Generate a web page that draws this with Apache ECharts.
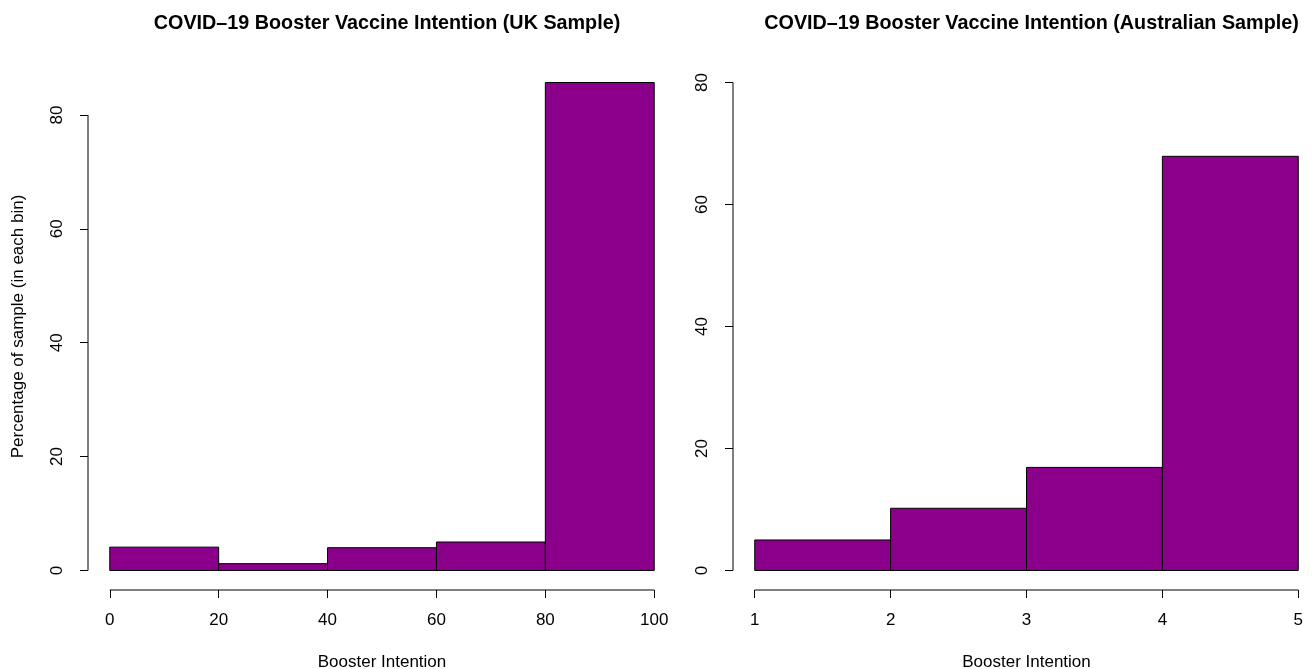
<!DOCTYPE html>
<html>
<head>
<meta charset="utf-8">
<script src="https://cdn.jsdelivr.net/npm/echarts@6/dist/echarts.min.js"></script>
<style>
  html, body { margin: 0; padding: 0; background: #ffffff; }
  #chart { width: 1313px; height: 669px; }
</style>
</head>
<body>
<div id="chart"></div>
<script>
// Histogram bins: break points and percentage of sample in each bin
const ukBreaks = [0, 20, 40, 60, 80, 100];
const ukPercent = [4.1, 1.2, 4.0, 5.0, 85.7];
const auBreaks = [1, 2, 3, 4, 5];
const auPercent = [5.0, 10.2, 16.9, 67.9];

// Tick labels
const ukXTicks = [0, 20, 40, 60, 80, 100];
const auXTicks = [1, 2, 3, 4, 5];
const yTicks = [0, 20, 40, 60, 80];
const auYLimit = [0, 80];

// Text
const titles = [
  'COVID\u201319 Booster Vaccine Intention (UK Sample)',
  'COVID\u201319 Booster Vaccine Intention (Australian Sample)'
];
const xTitle = 'Booster Intention';
const yTitle = 'Percentage of sample (in each bin)';

const FONT = '"Liberation Sans", Arial, Helvetica, sans-serif';
const FILL = '#8B008B';

// Extend a range by 4% at each end, as base graphics does
function padRange(lo, hi) {
  const d = (hi - lo) * 0.04;
  return [lo - d, hi + d];
}

function bins(breaks, values) {
  return values.map((v, i) => [breaks[i], breaks[i + 1], v]);
}

const ukX = padRange(ukBreaks[0], ukBreaks[ukBreaks.length - 1]);
const ukY = padRange(0, Math.max(...ukPercent));
const auX = padRange(auBreaks[0], auBreaks[auBreaks.length - 1]);
const auY = padRange(auYLimit[0], auYLimit[1]);

const grids = [
  { left: 88, top: 63, width: 588, height: 527, outerBoundsMode: 'none', containLabel: false },
  { left: 733, top: 63, width: 587, height: 527, outerBoundsMode: 'none', containLabel: false }
];

function xAxisFor(idx, range, ticks) {
  return {
    type: 'value', gridIndex: idx, min: range[0], max: range[1],
    axisLine: { show: false, onZero: false }, splitLine: { show: false },
    axisTick: { show: true, customValues: ticks, length: 8, lineStyle: { color: '#000', width: 1 } },
    axisLabel: { customValues: ticks, fontSize: 17, color: '#000', margin: 22, fontFamily: FONT },
    name: xTitle, nameLocation: 'middle', nameGap: 64,
    nameTextStyle: { fontSize: 17, color: '#000', fontFamily: FONT }
  };
}

function yAxisFor(idx, range, withName) {
  const ax = {
    type: 'value', gridIndex: idx, min: range[0], max: range[1],
    axisLine: { show: false, onZero: false }, splitLine: { show: false },
    axisTick: { show: true, customValues: yTicks, length: 8, lineStyle: { color: '#000', width: 1 } },
    axisLabel: { customValues: yTicks, fontSize: 17, color: '#000', margin: 22, rotate: 90, fontFamily: FONT }
  };
  if (withName) {
    ax.name = yTitle;
    ax.nameLocation = 'middle';
    ax.nameRotate = 90;
    ax.nameGap = 61;
    ax.nameTextStyle = { fontSize: 17, color: '#000', fontFamily: FONT };
  }
  return ax;
}

function histSeries(idx, data) {
  return {
    type: 'custom', xAxisIndex: idx, yAxisIndex: idx, silent: true,
    data: data,
    encode: { x: [0, 1], y: 2 },
    renderItem: function (params, api) {
      const p0 = api.coord([api.value(0), api.value(2)]);
      const p1 = api.coord([api.value(1), 0]);
      return {
        type: 'rect',
        shape: { x: p0[0], y: p0[1], width: p1[0] - p0[0], height: p1[1] - p0[1] },
        style: { fill: FILL, stroke: '#000', lineWidth: 1 }
      };
    }
  };
}

// Axis lines that run only between the first and last tick
function axisLineSeries(idx, pts) {
  return {
    type: 'line', xAxisIndex: idx, yAxisIndex: idx, silent: true, clip: false,
    symbol: 'none', data: pts,
    lineStyle: { color: '#000', width: 1 }
  };
}

const option = {
  animation: false,
  backgroundColor: '#ffffff',
  title: titles.map((t, i) => ({
    text: t,
    left: grids[i].left + grids[i].width / 2,
    top: 9,
    textAlign: 'center',
    textStyle: { fontSize: 19.75, fontWeight: 'bold', color: '#000', fontFamily: FONT }
  })),
  grid: grids,
  xAxis: [xAxisFor(0, ukX, ukXTicks), xAxisFor(1, auX, auXTicks)],
  yAxis: [yAxisFor(0, ukY, true), yAxisFor(1, auY, false)],
  series: [
    histSeries(0, bins(ukBreaks, ukPercent)),
    histSeries(1, bins(auBreaks, auPercent)),
    axisLineSeries(0, [[ukX[0], yTicks[0]], [ukX[0], yTicks[yTicks.length - 1]]]),
    axisLineSeries(0, [[ukXTicks[0], ukY[0]], [ukXTicks[ukXTicks.length - 1], ukY[0]]]),
    axisLineSeries(1, [[auX[0], yTicks[0]], [auX[0], yTicks[yTicks.length - 1]]]),
    axisLineSeries(1, [[auXTicks[0], auY[0]], [auXTicks[auXTicks.length - 1], auY[0]]])
  ]
};

const chart = echarts.init(document.getElementById('chart'), null, { renderer: 'canvas' });
chart.setOption(option);
</script>
</body>
</html>
